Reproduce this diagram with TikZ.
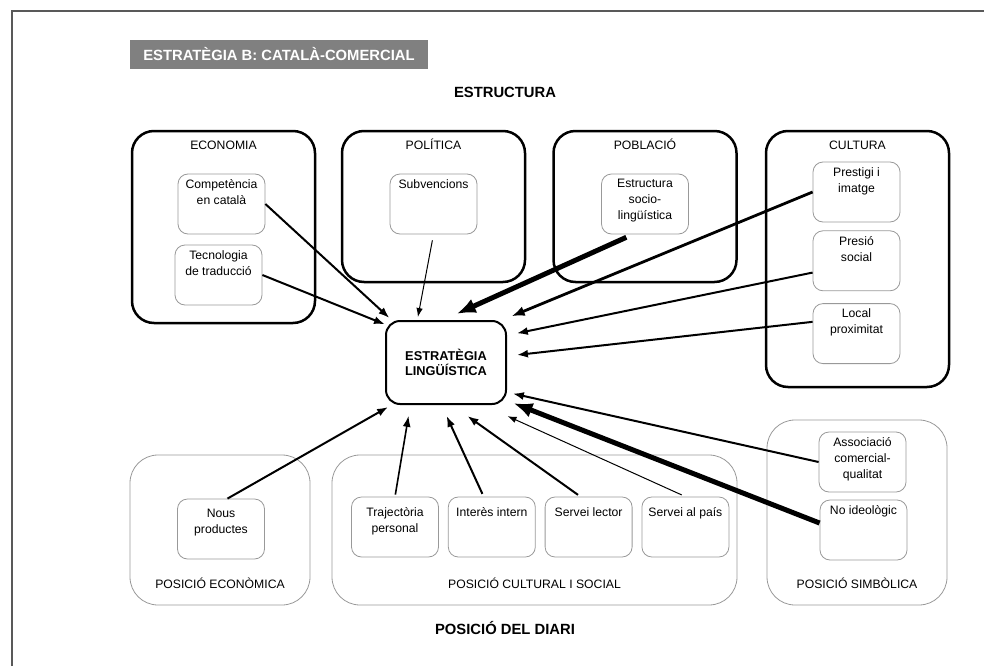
\documentclass[tikz,border=0pt]{standalone}
\usepackage{fontspec}
\setmainfont{Liberation Sans}
\usetikzlibrary{arrows.meta, calc, positioning}
\tikzstyle{area} = [draw, line width=2.5pt, rounded corners=22pt, inner sep=0pt, minimum width=183pt]
\tikzstyle{factor} = [draw=gray!80, line width=0.8pt, rounded corners=10pt, inner sep=0pt, minimum width=87pt, minimum height=60pt]
\tikzstyle{posicio} = [draw=gray!80, line width=0.8pt, rounded corners=28pt, inner sep=0pt]
\tikzstyle{centre} = [draw, line width=2pt, rounded corners=14pt, minimum width=120pt, minimum height=83pt, align=center, font=\bfseries\fontsize{12.8}{15.5}\selectfont]
\tikzstyle{caption} = [font=\fontsize{12.2}{15}\selectfont, inner sep=0pt, anchor=base]
\tikzstyle{inside} = [font=\fontsize{12.2}{16}\selectfont, align=center, anchor=north, inner sep=5.5pt]
\tikzstyle{lower} = [inside, yshift=-5pt]
\tikzstyle{heading} = [font=\bfseries\fontsize{14.8}{17}\selectfont, inner sep=0pt]
\tikzstyle{fine} = [-{Latex[length=9pt,width=6.5pt]}, line width=1pt]
\tikzstyle{link} = [-{Latex[length=11pt,width=8pt]}, line width=2pt]
\tikzstyle{strong} = [-{Latex[length=13pt,width=10pt]}, line width=2.8pt]
\tikzstyle{heavy} = [-{Latex[length=19pt,width=15pt]}, line width=5pt]

\begin{document}
\begin{tikzpicture}[x=1pt, y=-1pt]
\useasboundingbox (0,0) rectangle (984,666);
\draw[line width=1.6pt, black!65] (12,666) -- (12,11) -- (984,11);

\node [heading, fill=gray, text=white, minimum width=298pt, minimum height=29pt] (titol) at (279,54.5) {ESTRATÈGIA B: CATALÀ-COMERCIAL};
\node [heading] (estructura) at (505,92) {ESTRUCTURA};
\node [heading] (diari) at (505,628) {POSICIÓ DEL DIARI};

% estructura
\node [area, minimum height=192pt, label={[caption, yshift=-20pt]north:ECONOMIA}] (eco) at (223.5,227) {};
\node [area, minimum height=151pt, label={[caption, yshift=-20pt]north:POLÍTICA}] (pol) at (433.5,206.5) {};
\node [area, minimum height=151pt, label={[caption, yshift=-20pt]north:POBLACIÓ}] (pob) at (645,206.5) {};
\node [area, minimum height=256pt, label={[caption, yshift=-20pt]north:CULTURA}] (cult) at (857.5,259) {};

\node [factor, label={[inside]north:Competència\\en català}] (comp) at (221.5,204) {};
\node [factor, label={[inside]north:Tecnologia\\de traducció}] (tec) at (218.5,275) {};
\node [factor, label={[inside]north:Subvencions}] (subv) at (433.5,204) {};
\node [factor, label={[inside]north:Estructura\\socio-\\lingüística}] (estr) at (645,204) {};
\node [factor, label={[inside]north:Prestigi i\\imatge}] (prest) at (856.5,192) {};
\node [factor, below=8pt of prest, label={[inside]north:Presió\\social}] (presio) {};
\node [factor, below=12pt of presio, label={[inside]north:Local\\proximitat}] (local) {};

\node [centre] (linguistica) at (446,362.5) {ESTRATÈGIA\\LINGÜÍSTICA};

% posicio del diari
\node [posicio, minimum width=180pt, minimum height=150pt, label={[caption, yshift=17pt]south:POSICIÓ ECONÒMICA}] (peco) at (220,530) {};
\node [posicio, minimum width=405pt, minimum height=150pt, label={[caption, yshift=17pt]south:POSICIÓ CULTURAL I SOCIAL}] (pcult) at (534.5,530) {};
\node [posicio, minimum width=180pt, minimum height=185pt, label={[caption, yshift=17pt]south:POSICIÓ SIMBÒLICA}] (psimb) at (857,512.5) {};

\node [factor, label={[lower]north:Nous\\productes}] (nous) at (221,529) {};
\node [factor, label={[lower]north:Trajectòria\\personal}] (traj) at (395,527) {};
\node [factor, right=9pt of traj, label={[lower]north:Interès intern}] (inter) {};
\node [factor, right=9pt of inter, label={[lower]north:Servei lector}] (lector) {};
\node [factor, right=9pt of lector, label={[lower]north:Servei al país}] (pais) {};
\node [factor, label={[inside]north:Associació\\comercial-\\qualitat}] (assoc) at (862.5,462) {};
\node [factor, label={[inside]north:No ideològic}] (noid) at (863.5,530) {};

\draw [link, shorten >=3pt] (comp.east) -- (linguistica.142);
\draw [link] (tec.east) -- (linguistica.148);
\draw [fine, shorten <=6pt, shorten >=3pt] (subv.south) -- (linguistica.124);
\draw [heavy, shorten <=7pt, shorten >=15pt] (estr.-112) -- (linguistica.94);
\draw [strong, shorten >=10pt] (prest.west) -- (linguistica.37);
\draw [link, shorten >=10pt] (presio.195) -- (linguistica.24);
\draw [link, shorten >=10pt] (local.165) -- (linguistica.6);
\draw [link, shorten >=6pt] (assoc.west) -- (linguistica.-26);
\draw [heavy, shorten >=7pt] (noid.171) -- (linguistica.-32);
\draw [fine, shorten <=4pt, shorten >=27pt] (pais.north) -- (linguistica.-49);
\draw [link, shorten <=3pt, shorten >=19pt] (lector.105) -- (linguistica.-82);
\draw [link, shorten <=3pt, shorten >=12pt] (inter.105) -- (linguistica.-96);
\draw [link, line width=1.6pt, shorten <=2pt, shorten >=11pt] (traj.north) -- (linguistica.-130);
\draw [link, shorten >=4pt] (nous.78) -- (linguistica.-142);
\end{tikzpicture}
\end{document}
